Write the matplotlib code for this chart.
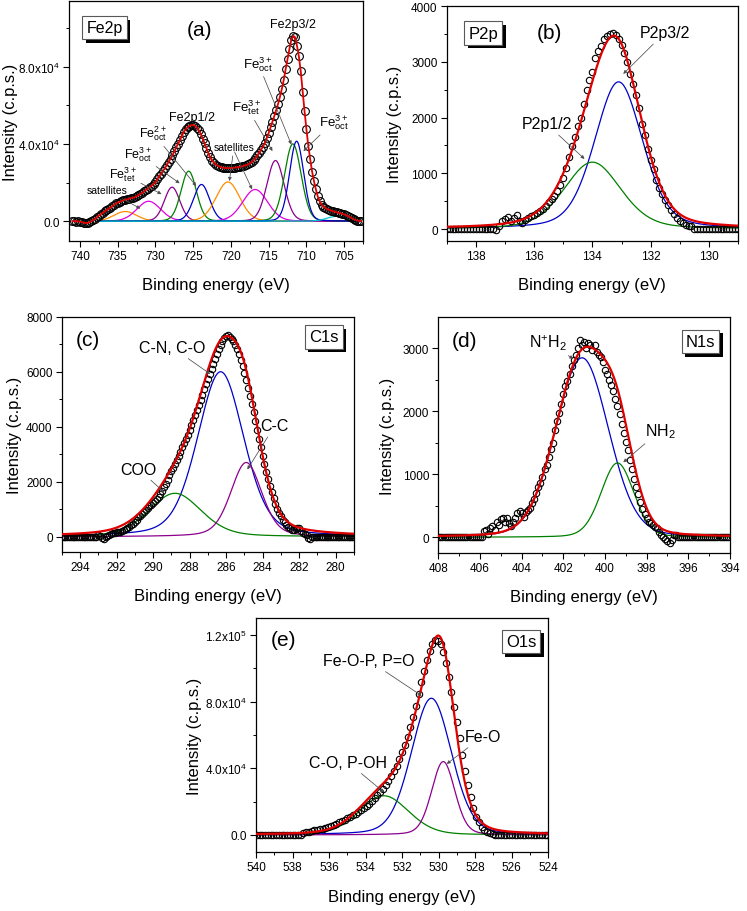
import numpy as np
import matplotlib
matplotlib.use("Agg")
import matplotlib.pyplot as plt
from matplotlib import transforms
from matplotlib.patches import Rectangle

plt.rcParams["font.family"] = ["Liberation Sans", "DejaVu Sans"]
plt.rcParams["mathtext.fontset"] = "custom"
plt.rcParams["mathtext.rm"] = "Liberation Sans"
plt.rcParams["mathtext.it"] = "Liberation Sans:italic"
plt.rcParams["mathtext.bf"] = "Liberation Sans:bold"

BLUE = "#0000c8"
GREEN = "#008000"
PURPLE = "#8c008c"
MAGENTA = "#e000e0"
ORANGE = "#ff8c00"
CYAN = "#00c8d0"
RED = "#e00000"

# ---------------- data -----------------
# (a) Fe2p : measured counts (x1000), 0.25 eV step starting at 741.0 eV
a_start, a_step = 741.0, 0.25
a_counts_k = [
    0.0, 0.1, -0.2, 0.0, -0.3, -0.5, -0.8, -1.0, -0.9, -0.6,
    0.0, 0.6, 1.2, 2.0, 2.9, 3.6, 4.3, 5.0, 5.7, 6.4,
    6.9, 7.6, 8.4, 9.2, 9.6, 10.0, 10.4, 10.8, 11.1, 11.3,
    11.6, 11.9, 12.1, 12.4, 12.9, 13.5, 14.1, 14.7, 15.4, 16.2,
    16.9, 17.6, 18.4, 19.2, 20.1, 21.8, 23.3, 24.6, 26.0, 27.4,
    29.0, 30.7, 32.4, 34.2, 36.1, 38.2, 40.1, 42.0, 44.2, 46.2,
    47.6, 48.6, 49.3, 49.7, 49.8, 49.4, 48.4, 47.0, 45.2, 42.8,
    40.3, 37.8, 35.2, 33.0, 31.4, 30.2, 29.3, 28.7, 28.2, 27.8,
    27.6, 27.5, 27.5, 27.5, 27.6, 27.6, 27.7, 27.8, 28.0, 28.2,
    28.4, 28.7, 29.0, 29.4, 29.9, 30.6, 31.5, 32.6, 34.0, 35.5,
    37.0, 38.6, 40.6, 43.0, 45.7, 48.6, 51.6, 54.5, 57.6, 60.8,
    64.5, 68.6, 73.2, 78.8, 84.0, 89.2, 94.0, 96.0, 95.2, 90.8,
    85.3, 77.5, 67.0, 57.0, 47.5, 39.0, 32.0, 25.7, 20.7, 16.5,
    12.8, 10.2, 8.6, 7.5, 6.9, 6.3, 5.9, 5.5, 5.2, 4.9,
    4.6, 4.3, 4.1, 3.8, 3.5, 3.1, 2.6, 2.1, 1.6, 1.1,
    0.6, 0.3, 0.1, 0.0,
]
a_centers = [734.0, 730.9, 727.8, 725.6, 723.9, 720.4, 716.8, 714.1, 711.8, 711.3, 706.0]
a_heights = [5000, 10300, 17600, 25900, 19000, 20300, 16400, 31400, 40000, 41400, 2500]
a_fwhm = [3.5, 3.7, 2.4, 2.4, 2.5, 3.7, 3.9, 2.7, 2.6, 2.2, 3.0]
a_colors = [ORANGE, MAGENTA, PURPLE, GREEN, BLUE, ORANGE, MAGENTA, PURPLE, GREEN, BLUE, CYAN]

# (b) P2p : 0.1 eV step starting at 139.0 eV
b_start, b_step = 139.0, 0.1
b_counts = [0] * 16 + [
    0, -20, 60, 140, 180, 210, 150, 200, 250, 140,
    110, 170, 200, 230, 250, 290, 330, 360, 420, 480,
    540, 600, 690, 790, 910, 1100, 1290, 1490, 1650, 1840,
    1990, 2250, 2500, 2680, 2820, 3070, 3200, 3280, 3400, 3460,
    3500, 3510, 3480, 3400, 3300, 3160, 3000, 2780, 2600, 2410,
    2180, 1890, 1680, 1440, 1230, 1080, 880, 740, 620, 520,
    430, 340, 270, 200, 150, 110, 80, 50, 60,
] + [0] * 16
b_centers = [133.1, 134.0]
b_heights = [2640, 1200]
b_fwhm = [1.95, 2.3]
b_colors = [BLUE, GREEN]

# (c) C1s : 0.1 eV step starting at 295.0 eV
c_start, c_step = 295.0, 0.1
c_counts = [0] * 20 + [
    50, 30, -60, -80, 0, 40, 60, 100, 130, 150,
    170, 180, 190, 200, 240, 290, 330, 370, 420, 480,
    550, 620, 700, 760, 830, 900, 980, 1060, 1120, 1160,
    1230, 1300, 1380, 1450, 1560, 1680, 1800, 1930, 2080, 2230,
    2380, 2500, 2640, 2800, 2950, 3090, 3250, 3400, 3540, 3700,
    3870, 4050, 4240, 4420, 4600, 4790, 4980, 5170, 5370, 5560,
    5740, 5920, 6100, 6290, 6470, 6650, 6820, 6980, 7120, 7230,
    7300, 7320, 7280, 7200, 7100, 6980, 6820, 6640, 6440, 6200,
    5960, 5700, 5420, 5130, 4830, 4520, 4200, 3890, 3560, 3250,
    2950, 2650, 2370, 2100, 1850, 1620, 1400, 1200, 1020, 870,
    740, 620, 520, 430, 360, 300, 250, 230, 280, 330,
    310, 200, 150, 100, 60, -60, -90,
] + [0] * 24
c_centers = [286.3, 288.8, 284.9]
c_heights = [6000, 1580, 2700]
c_fwhm = [3.0, 3.4, 2.0]
c_colors = [BLUE, GREEN, PURPLE]

# (d) N1s : 0.1 eV step starting at 408.0 eV
d_start, d_step = 408.0, 0.1
d_counts = [0] * 22 + [
    100, 110, 60, 150, 180, 120, 250, 200, 290, 310,
    240, 300, 220, 180, 250, 300, 380, 420, 390, 330,
    400, 440, 470, 540, 610, 700, 800, 870, 950, 1080,
    1150, 1270, 1400, 1500, 1700, 1850, 1980, 2120, 2270, 2400,
    2480, 2600, 2720, 2820, 2900, 3000, 3130, 3050, 3100, 3010,
    3080, 3050, 2980, 3050, 2950, 2900, 2860, 2780, 2650, 2600,
    2500, 2420, 2320, 2200, 2080, 1950, 1800, 1660, 1520, 1380,
    1230, 1080, 930, 800, 680, 560, 450, 370, 300, 250,
    230, 200, 170, 140, 90, 30, 10, -30, -60, -90,
    -40, 30, 40,
] + [0] * 25
d_centers = [401.1, 399.4]
d_heights = [2850, 1180]
d_fwhm = [3.0, 1.85]
d_colors = [BLUE, GREEN]

# (e) O1s : counts (x1000), 0.15 eV step starting at 539.95 eV
e_start, e_step = 539.95, 0.15
e_counts_k = [0] * 17 + [
    1.0, 1.8, 2.0, 2.4, 2.7, 3.0, 3.3, 3.7, 4.3, 4.9,
    5.4, 6.0, 6.8, 7.5, 8.3, 9.0, 9.9, 10.8, 11.7, 12.7,
    13.8, 15.0, 16.2, 17.4, 18.7, 20.2, 21.9, 23.8, 25.8, 27.8,
    30.0, 32.5, 35.2, 38.2, 41.6, 45.4, 49.5, 54.0, 59.0, 64.5,
    71.0, 77.5, 84.5, 91.5, 98.5, 105.0, 110.5, 114.5, 116.8, 116.5,
    114.5, 109.5, 103.0, 95.0, 86.0, 77.0, 68.0, 58.0, 48.0, 38.5,
    30.0, 22.5, 16.0, 11.0, 7.5, 5.0, 3.2, 2.0, 1.0, 0.5,
    0.2, 0.0,
] + [0] * 18
e_centers = [530.4, 533.0, 529.75]
e_heights = [82000, 23500, 44000]
e_fwhm = [2.6, 3.2, 1.5]
e_colors = [BLUE, GREEN, PURPLE]


def peak(x, c, h, w, m):
    r = ((x - c) / w) ** 2
    return h * ((1 - m) * np.exp(-4 * np.log(2) * r) + m / (1 + 4 * r))


def energies(start, step, n):
    return start - step * np.arange(n)


fig = plt.figure(figsize=(7.47, 9.12), dpi=100)
boxes = []


def setup(ax, xlim, ylim, xmaj, xmin, ymaj, ymin, ylabels=None, ylab_x=-0.15):
    ax.set_xlim(*xlim)
    ax.set_ylim(*ylim)
    ax.set_xticks(xmaj)
    ax.set_xticks(xmin, minor=True)
    if ylabels is None:
        ax.set_yticks(ymaj)
    else:
        ax.set_yticks(ymaj, labels=ylabels)
    ax.set_yticks(ymin, minor=True)
    ax.tick_params(which="both", direction="out", top=False, right=False, labelsize=8.5, pad=2)
    ax.tick_params(which="major", length=4.5, width=0.8)
    ax.tick_params(which="minor", length=2.5, width=0.7)
    for s in ax.spines.values():
        s.set_linewidth(0.9)
    ax.set_xlabel("Binding energy (eV)", fontsize=12, labelpad=11)
    ax.set_ylabel("Intensity (c.p.s.)", fontsize=12)
    ax.yaxis.set_label_coords(ylab_x, 0.5)


def box(ax, txt, x, y, size=12):
    t = ax.text(x, y, txt, transform=ax.transAxes, ha="center", va="center", fontsize=size,
                bbox=dict(boxstyle="square,pad=0.25", fc="white", ec="0.35", lw=0.8), zorder=7)
    boxes.append((ax, t))


def note(ax, txt, xytext, xy, size):
    ax.annotate(txt, xy=xy, xytext=xytext, ha="center", va="center", fontsize=size,
                arrowprops=dict(arrowstyle="-|>", color="0.3", lw=0.55,
                                mutation_scale=5, shrinkA=1, shrinkB=0), zorder=8)


def draw(ax, e, y, centers, heights, fwhm, colors, mix, grid, fit_from_data=False, ms=4.6):
    total = np.zeros_like(grid)
    for c, h, w, col in zip(centers, heights, fwhm, colors):
        comp = peak(grid, c, h, w, mix)
        total += comp
        ax.plot(grid, comp, color=col, lw=0.9, zorder=2)
    ax.plot(e, y, "o", mfc="none", mec="black", ms=ms, mew=0.8, zorder=3)
    if fit_from_data:
        ax.plot(e, y, color=RED, lw=1.3, zorder=4)
    else:
        ax.plot(grid, total, color=RED, lw=1.6, zorder=4)


# ---------------- (a) Fe2p ----------------
ax = fig.add_axes([0.0924, 0.7346, 0.3936, 0.2632])
y = np.array(a_counts_k) * 1000
e = energies(a_start, a_step, len(y))
draw(ax, e, y, a_centers, a_heights, a_fwhm, a_colors, 0.1,
     np.linspace(737.5, 703.0, 700), fit_from_data=True, ms=5.6)
setup(ax, (741.45, 702.7), (-10300, 114000), np.arange(740, 701, -5), np.arange(740, 701, -2.5),
      [0, 40000, 80000], np.arange(0, 114000, 20000),
      ["0.0", r"4.0x10$^{\mathregular{4}}$", r"8.0x10$^{\mathregular{4}}$"], ylab_x=-0.173)
box(ax, "Fe2p", 0.121, 0.888, 11.5)
ax.text(724.2, 99000, "(a)", fontsize=15, ha="center", va="center")
ax.text(711.8, 102000, "Fe2p3/2", fontsize=9, ha="center", va="center")
ax.text(725.2, 54000, "Fe2p1/2", fontsize=9, ha="center", va="center")
fe3oct = r"Fe$^{\mathregular{3+}}_{\mathregular{oct}}$"
fe3tet = r"Fe$^{\mathregular{3+}}_{\mathregular{tet}}$"
fe2oct = r"Fe$^{\mathregular{2+}}_{\mathregular{oct}}$"
note(ax, "satellites", (736.4, 16000), (732.0, 6500), 7.5)
note(ax, fe3tet, (734.3, 24500), (729.2, 14000), 9)
note(ax, fe3oct, (732.3, 35000), (726.8, 19600), 9)
note(ax, fe2oct, (730.3, 45600), (724.6, 18200), 9)
note(ax, "satellites", (719.6, 38500), (720.2, 20800), 7.5)
note(ax, "", (719.6, 36500), (717.2, 16500), 7.5)
note(ax, fe3tet, (717.9, 59100), (714.5, 36300), 9.5)
note(ax, fe3oct, (716.4, 81800), (712.0, 39700), 9.5)
note(ax, fe3oct, (706.4, 51400), (710.4, 36300), 9.5)

# ---------------- (b) P2p ----------------
ax = fig.add_axes([0.598, 0.7346, 0.39, 0.2577])
y = np.array(b_counts, dtype=float)
e = energies(b_start, b_step, len(y))
draw(ax, e, y, b_centers, b_heights, b_fwhm, b_colors, 0.3, np.linspace(139, 129, 600))
setup(ax, (139, 129), (-215, 4000), np.arange(138, 129, -2), np.arange(139, 128.9, -1),
      np.arange(0, 4001, 1000), np.arange(0, 4001, 500), ylab_x=-0.153)
box(ax, "P2p", 0.126, 0.885)
ax.text(135.47, 3519, "(b)", fontsize=15, ha="center", va="center")
note(ax, "P2p3/2", (131.52, 3519), (132.94, 2783), 11.5)
note(ax, "P2p1/2", (135.57, 1885), (134.27, 1257), 11.5)

# ---------------- (c) C1s ----------------
ax = fig.add_axes([0.0826, 0.3936, 0.3913, 0.258])
y = np.array(c_counts, dtype=float)
e = energies(c_start, c_step, len(y))
draw(ax, e, y, c_centers, c_heights, c_fwhm, c_colors, 0.3, np.linspace(295, 279, 800))
setup(ax, (295, 279), (-556, 8000), np.arange(294, 279, -2), np.arange(295, 278.9, -1),
      np.arange(0, 8001, 2000), np.arange(0, 8001, 1000), ylab_x=-0.136)
box(ax, "C1s", 0.897, 0.914)
ax.text(293.55, 7190, "(c)", fontsize=15, ha="center", va="center")
note(ax, "C-N, C-O", (288.94, 6880), (286.87, 5917), 11.5)
note(ax, "C-C", (283.33, 4044), (284.84, 2447), 11.5)
note(ax, "COO", (290.79, 2462), (289.39, 1615), 11.5)

# ---------------- (d) N1s ----------------
ax = fig.add_axes([0.5867, 0.3925, 0.3905, 0.2584])
y = np.array(d_counts, dtype=float)
e = energies(d_start, d_step, len(y))
draw(ax, e, y, d_centers, d_heights, d_fwhm, d_colors, 0.15, np.linspace(408, 394, 800))
setup(ax, (408, 394), (-250, 3492), np.arange(408, 393, -2), np.arange(408, 393.9, -1),
      np.arange(0, 3001, 1000), np.arange(0, 3401, 500), ylab_x=-0.148)
box(ax, "N1s", 0.899, 0.897)
ax.text(406.72, 3132, "(d)", fontsize=15, ha="center", va="center")
note(ax, r"N$^{\mathregular{+}}$H$_{\mathregular{2}}$", (402.72, 3095), (401.52, 2833), 11.5)
note(ax, r"NH$_{\mathregular{2}}$", (397.36, 1692), (399.12, 1190), 11.5)

# ---------------- (e) O1s ----------------
ax = fig.add_axes([0.3427, 0.0644, 0.3913, 0.2566])
y = np.array(e_counts_k) * 1000
e = energies(e_start, e_step, len(y))
draw(ax, e, y, e_centers, e_heights, e_fwhm, e_colors, 0.2, np.linspace(540, 524, 800))
setup(ax, (540, 524), (-10400, 130000), np.arange(540, 523, -2), np.arange(540, 523.9, -1),
      [0, 40000, 80000, 120000], np.arange(0, 130001, 20000),
      ["0.0", r"4.0x10$^{\mathregular{4}}$", r"8.0x10$^{\mathregular{4}}$", r"1.2x10$^{\mathregular{5}}$"],
      ylab_x=-0.185)
box(ax, "O1s", 0.907, 0.901)
ax.text(538.47, 117500, "(e)", fontsize=15, ha="center", va="center")
note(ax, "Fe-O-P, P=O", (533.82, 104600), (530.93, 83500), 11.5)
note(ax, "Fe-O", (527.6, 59000), (529.56, 42600), 11.5)
note(ax, "C-O, P-OH", (534.96, 43500), (533.0, 25600), 11.5)

# drop shadows behind the element boxes
fig.canvas.draw()
renderer = fig.canvas.get_renderer()
for ax, t in boxes:
    bb = t.get_bbox_patch().get_window_extent(renderer)
    ax.add_patch(Rectangle((bb.x0 + 3.5, bb.y0 - 3.5), bb.width, bb.height,
                           transform=transforms.IdentityTransform(), fc="black", ec="none",
                           zorder=6, clip_on=False))

fig.savefig("out.png", dpi=100)
